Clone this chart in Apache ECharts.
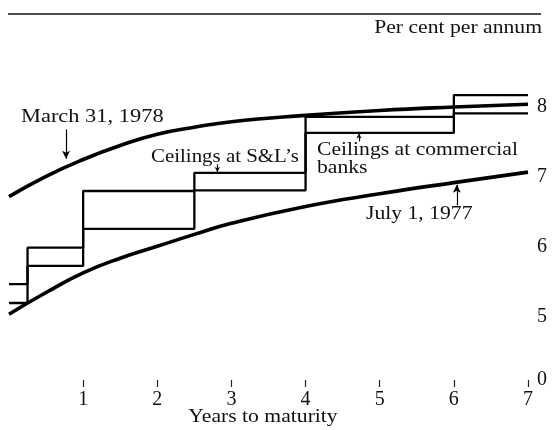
<!DOCTYPE html>
<html>
<head>
<meta charset="utf-8">
<script src="https://cdn.jsdelivr.net/npm/echarts@6/dist/echarts.min.js"></script>
<style>
  html, body { margin: 0; padding: 0; background: #fff; }
  #main { width: 554px; height: 430px; }
</style>
</head>
<body>
<div id="main"></div>
<script>
// yield curves (years to maturity -> per cent)
var curveX   = [0, 0.5, 1, 1.5, 2, 2.5, 3, 4, 5, 6, 7];
var march78  = [6.72, 7.01, 7.25, 7.45, 7.61, 7.71, 7.79, 7.88, 7.95, 8.00, 8.04];
var july77   = [5.04, 5.35, 5.63, 5.84, 6.01, 6.18, 6.34, 6.58, 6.76, 6.92, 7.07];
// deposit rate ceilings, step breaks
var stepX    = [0, 0.25, 1, 2.5, 4, 6, 7];
var slCeil   = [5.47, 5.99, 6.80, 7.06, 7.86, 8.17, 8.17];
var bankCeil = [5.20, 5.73, 6.26, 6.81, 7.63, 7.91, 7.91];
var xTicks   = [1, 2, 3, 4, 5, 6, 7];
var yTicks   = [4.1, 5, 6, 7, 8];   // bottom one is the broken-axis "0"

var myChart = echarts.init(document.getElementById('main'));
var serif = '"Liberation Serif", "DejaVu Serif", serif';

function pairs(xs, ys) {
    var out = [];
    for (var i = 0; i < xs.length; i++) out.push([xs[i], ys[i]]);
    return out;
}
function arrow(x, y1, y2) {
    return [{coord: [x, y1]}, {coord: [x, y2]}];
}
// scanned type is a little wider than Liberation Serif, so stretch it sideways
function label(txt, x, y, align, sx) {
    return {
        type: 'text', x: x, y: y, scaleX: sx || 1.14,
        style: { text: txt, align: align || 'left', verticalAlign: 'middle', font: '19px ' + serif, fill: '#111' }
    };
}
function pointer(x, y1, y2, size) {
    return {
        silent: true,
        symbol: ['none', 'arrow'],
        symbolSize: size,
        label: { show: false },
        lineStyle: { color: '#000', width: 1.2, type: 'solid' },
        data: [arrow(x, y1, y2)]
    };
}

var option = {
    animation: false,
    backgroundColor: '#fff',
    grid: { left: 9, right: 26, top: 58, bottom: 50 },
    xAxis: {
        type: 'value',
        min: 0, max: 7, interval: 1,
        axisLine: { show: false },
        splitLine: { show: false },
        axisTick: { show: true, customValues: xTicks, length: 7, lineStyle: { color: '#222', width: 1.2 } },
        axisLabel: { customValues: xTicks, margin: 10, fontFamily: serif, fontSize: 20, color: '#111' }
    },
    yAxis: {
        type: 'value',
        position: 'right',
        min: 4.1, max: 8.7,
        axisLine: { show: false },
        axisTick: { show: false },
        splitLine: { show: false },
        axisLabel: {
            customValues: yTicks,
            margin: 9,
            fontFamily: serif, fontSize: 20, color: '#111',
            formatter: function (v) { return v < 5 ? '0' : String(v); }
        }
    },
    graphic: [
        { type: 'line', shape: { x1: 8, y1: 14, x2: 541, y2: 14 }, style: { stroke: '#111', lineWidth: 1.5 } },
        label('Per cent per annum', 542, 28, 'right'),
        label('March 31, 1978', 21, 117, 'left', 1.18),
        label('Ceilings at S&L\u2019s', 151, 157, 'left', 1.1),
        label('Ceilings at commercial', 317, 150),
        label('banks', 317, 168),
        label('July 1, 1977', 366, 214),
        label('Years to maturity', 263, 417, 'center')
    ],
    series: [
        {
            name: 'March 31, 1978',
            type: 'line',
            smooth: true,
            symbol: 'none',
            data: pairs(curveX, march78),
            lineStyle: { color: '#000', width: 3.6 },
            markLine: pointer(0.77, 7.68, 7.26, [6, 8])
        },
        {
            name: 'July 1, 1977',
            type: 'line',
            smooth: true,
            symbol: 'none',
            data: pairs(curveX, july77),
            lineStyle: { color: '#000', width: 3.6 },
            markLine: pointer(6.04, 6.60, 6.89, [6, 8])
        },
        {
            name: "Ceilings at S&L's",
            type: 'line',
            step: 'end',
            symbol: 'none',
            data: pairs(stepX, slCeil),
            lineStyle: { color: '#000', width: 2.3 },
            markLine: pointer(2.81, 7.18, 7.07, [4, 5])
        },
        {
            name: 'Ceilings at commercial banks',
            type: 'line',
            step: 'end',
            symbol: 'none',
            data: pairs(stepX, bankCeil),
            lineStyle: { color: '#000', width: 2.3 },
            markLine: pointer(4.72, 7.51, 7.62, [4, 5])
        }
    ]
};
myChart.setOption(option);
</script>
</body>
</html>
